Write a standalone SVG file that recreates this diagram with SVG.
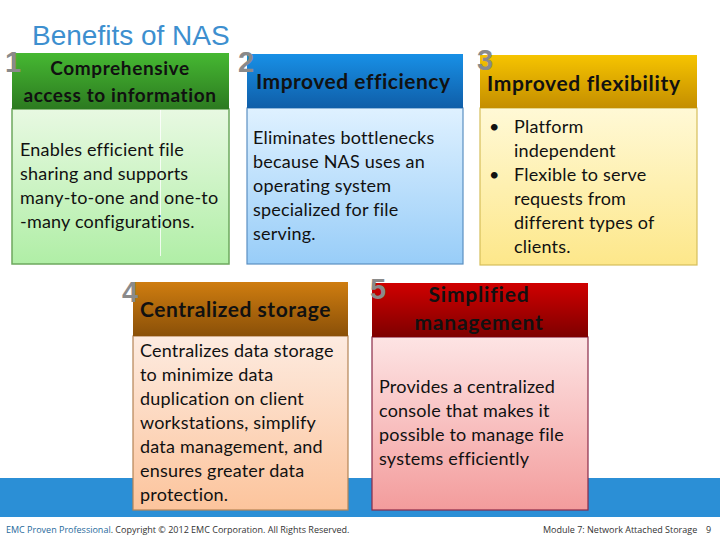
<svg xmlns="http://www.w3.org/2000/svg" width="720" height="540" viewBox="0 0 720 540">
<defs>
<linearGradient id="h1" x1="0" y1="0" x2="0" y2="1"><stop offset="0" stop-color="#46b832"/><stop offset="1" stop-color="#2c7a20"/></linearGradient>
<linearGradient id="b1" x1="0" y1="0" x2="0" y2="1"><stop offset="0" stop-color="#e8f9e2"/><stop offset="1" stop-color="#b0eea6"/></linearGradient>
<linearGradient id="h2" x1="0" y1="0" x2="0" y2="1"><stop offset="0" stop-color="#1890e6"/><stop offset="1" stop-color="#0f5ea8"/></linearGradient>
<linearGradient id="b2" x1="0" y1="0" x2="0" y2="1"><stop offset="0" stop-color="#dff1ff"/><stop offset="1" stop-color="#98cdf8"/></linearGradient>
<linearGradient id="h3" x1="0" y1="0" x2="0" y2="1"><stop offset="0" stop-color="#f6c400"/><stop offset="1" stop-color="#c48e00"/></linearGradient>
<linearGradient id="b3" x1="0" y1="0" x2="0" y2="1"><stop offset="0" stop-color="#fff9d6"/><stop offset="1" stop-color="#fde78a"/></linearGradient>
<linearGradient id="h4" x1="0" y1="0" x2="0" y2="1"><stop offset="0" stop-color="#cf7d10"/><stop offset="1" stop-color="#8a5008"/></linearGradient>
<linearGradient id="b4" x1="0" y1="0" x2="0" y2="1"><stop offset="0" stop-color="#fdebe0"/><stop offset="1" stop-color="#fcc49c"/></linearGradient>
<linearGradient id="h5" x1="0" y1="0" x2="0" y2="1"><stop offset="0" stop-color="#d00000"/><stop offset="1" stop-color="#7e0000"/></linearGradient>
<linearGradient id="b5" x1="0" y1="0" x2="0" y2="1"><stop offset="0" stop-color="#fde4e4"/><stop offset="1" stop-color="#f39c9c"/></linearGradient>
</defs>
<style>
.num{font-family:"Liberation Sans",Arial,sans-serif;font-weight:bold;font-size:29px;fill:#8a8a8a}
.hd{font-family:Lato,"Noto Sans",sans-serif;font-weight:bold;fill:#111}
.bd{font-family:Lato,"Noto Sans",sans-serif;font-size:18px;letter-spacing:0.2px;fill:#111}
.ft{font-family:"Open Sans","Liberation Sans",sans-serif;font-size:9px;fill:#333}
</style>
<rect x="0" y="0" width="720" height="540" fill="#fff"/>
<rect x="0" y="478" width="720" height="39" fill="#2b8fd6"/>
<text x="32" y="45" font-family="Liberation Sans,Arial,sans-serif" font-size="28" fill="#3d8fcf">Benefits of NAS</text>

<g id="node1">
<rect x="12" y="109" width="217" height="155" fill="url(#b1)" stroke="#6da85e" stroke-width="1.5"/>
<line x1="160.5" y1="110" x2="160.5" y2="256" stroke="#ffffff" stroke-width="1" opacity="0.8"/>
<rect x="12" y="53" width="217" height="56" fill="url(#h1)"/>
<text class="num" x="5" y="72">1</text>
<text class="hd" font-size="19" letter-spacing="0.6" x="120" y="75" text-anchor="middle">Comprehensive</text>
<text class="hd" font-size="19" letter-spacing="0.6" x="120" y="102" text-anchor="middle">access to information</text>
<text class="bd" x="20" y="156">Enables efficient file</text>
<text class="bd" x="20" y="180">sharing and supports</text>
<text class="bd" x="20" y="204">many-to-one and one-to</text>
<text class="bd" x="20" y="228">-many configurations.</text>
</g>

<g id="node2">
<rect x="247" y="108" width="216" height="156" fill="url(#b2)" stroke="#5b8fc2" stroke-width="1.2"/>
<rect x="247" y="54" width="216" height="54" fill="url(#h2)"/>
<text class="num" x="238" y="72">2</text>
<text class="hd" font-size="21" letter-spacing="0.5" x="256" y="89">Improved efficiency</text>
<text class="bd" x="253" y="144">Eliminates bottlenecks</text>
<text class="bd" x="253" y="168">because NAS uses an</text>
<text class="bd" x="253" y="192">operating system</text>
<text class="bd" x="253" y="216">specialized for file</text>
<text class="bd" x="253" y="240">serving.</text>
</g>

<g id="node3">
<rect x="480" y="108" width="217" height="157" fill="url(#b3)" stroke="#d6be5a" stroke-width="1.2"/>
<rect x="480" y="55" width="217" height="53" fill="url(#h3)"/>
<text class="num" x="477" y="70">3</text>
<text class="hd" font-size="21" letter-spacing="0.65" x="487" y="91">Improved flexibility</text>
<text class="bd" x="489" y="133">•</text>
<text class="bd" x="514" y="133">Platform</text>
<text class="bd" x="514" y="157">independent</text>
<text class="bd" x="489" y="181">•</text>
<text class="bd" x="514" y="181">Flexible to serve</text>
<text class="bd" x="514" y="205">requests from</text>
<text class="bd" x="514" y="229">different types of</text>
<text class="bd" x="514" y="253">clients.</text>
</g>

<g id="node4">
<rect x="133" y="336" width="215" height="174" fill="url(#b4)" stroke="#b58455" stroke-width="1.2"/>
<rect x="133" y="282" width="215" height="54" fill="url(#h4)"/>
<text class="num" x="122" y="302">4</text>
<text class="hd" font-size="21" letter-spacing="0.55" x="140" y="317">Centralized storage</text>
<text class="bd" x="140" y="357">Centralizes data storage</text>
<text class="bd" x="140" y="381">to minimize data</text>
<text class="bd" x="140" y="405">duplication on client</text>
<text class="bd" x="140" y="429">workstations, simplify</text>
<text class="bd" x="140" y="453">data management, and</text>
<text class="bd" x="140" y="477">ensures greater data</text>
<text class="bd" x="140" y="501">protection.</text>
</g>

<g id="node5">
<rect x="372" y="337" width="216" height="173" fill="url(#b5)" stroke="#8a2a48" stroke-width="1.2"/>
<rect x="372" y="283" width="216" height="54" fill="url(#h5)"/>
<text class="num" x="370" y="299">5</text>
<text class="hd" font-size="21" letter-spacing="0.8" x="479" y="302" text-anchor="middle">Simplified</text>
<text class="hd" font-size="21" letter-spacing="0.8" x="479" y="330" text-anchor="middle">management</text>
<text class="bd" x="379" y="393">Provides a centralized</text>
<text class="bd" x="379" y="417">console that makes it</text>
<text class="bd" x="379" y="441">possible to manage file</text>
<text class="bd" x="379" y="465">systems efficiently</text>
</g>

<g id="connectors"></g>

<text class="ft" x="6" y="533"><tspan fill="#1f6a9c">EMC Proven Professional</tspan>. Copyright © 2012 EMC Corporation. All Rights Reserved.</text>
<text class="ft" x="543" y="533">Module 7: Network Attached Storage</text>
<text class="ft" x="706" y="533">9</text>
</svg>
